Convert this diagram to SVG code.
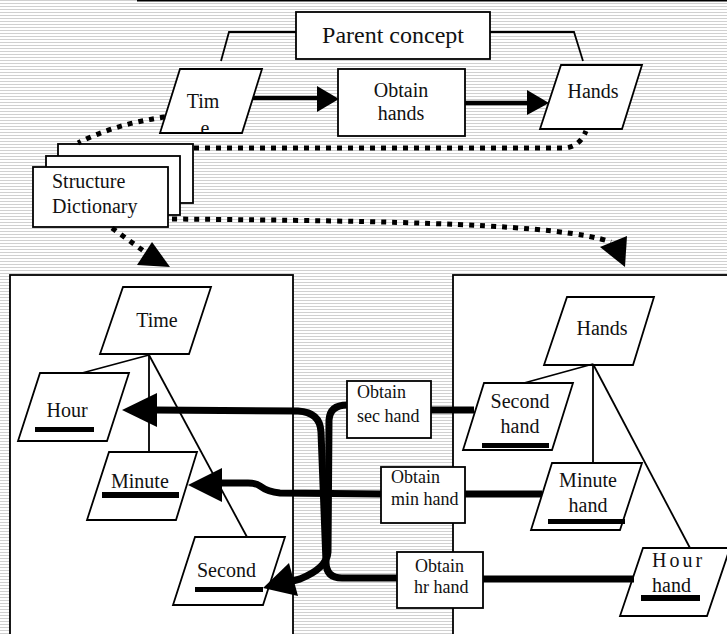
<svg xmlns="http://www.w3.org/2000/svg" width="727" height="634" viewBox="0 0 727 634">
<defs>
<pattern id="stripes" width="6" height="3" patternUnits="userSpaceOnUse">
<rect width="6" height="3" fill="#ffffff"/>
<rect width="6" height="1" fill="#d0d0d0"/>
</pattern>
<clipPath id="timeclip"><rect x="150" y="60" width="120" height="72"/></clipPath>
</defs>
<style>
.shape{fill:#fff;stroke:#000;stroke-width:1.8}
.thin{fill:none;stroke:#000;stroke-width:1.8}
.t{font-family:"Liberation Serif","Times New Roman",serif;font-size:20px;fill:#111}
.ts{font-family:"Liberation Serif","Times New Roman",serif;font-size:18px;fill:#111}
.c{text-anchor:middle}
.dot{fill:none;stroke:#000;stroke-width:5;stroke-dasharray:5 6}
.thick{fill:none;stroke:#000;stroke-width:7;stroke-linejoin:round}
.mid{fill:none;stroke:#000;stroke-width:4.5}
.ul{fill:#000}
</style>
<rect width="727" height="634" fill="url(#stripes)"/>
<line x1="137" y1="0.5" x2="727" y2="0.5" stroke="#000" stroke-width="2"/>

<g id="leftbox"><rect class="shape" x="10" y="275" width="283" height="370"/></g>
<g id="rightbox"><rect class="shape" x="453" y="275" width="290" height="370"/></g>

<g id="parent-concept">
<polyline class="thin" points="221,61 229,32 296,32"/>
<polyline class="thin" points="490,32 574,32 583,61"/>
<rect class="shape" x="296" y="12" width="194" height="47"/>
<text class="t c" x="393" y="43" style="font-size:24px">Parent concept</text>
</g>

<g id="time-top">
<polygon class="shape" points="180,69 262,69 242,133 160,133"/>
<text class="t c" x="203" y="108">Tim</text>
<text class="t c" x="205" y="135" clip-path="url(#timeclip)">e</text>
<line x1="160" y1="133" x2="242" y2="133" stroke="#000" stroke-width="1.8"/>
</g>

<g id="obtain-hands">
<rect class="shape" x="338" y="69" width="127" height="67"/>
<text class="t c" x="401" y="97">Obtain</text>
<text class="t c" x="401" y="120">hands</text>
</g>

<g id="hands-top">
<polygon class="shape" points="561,65 642,65 622,129 540,129"/>
<text class="t c" x="593" y="98">Hands</text>
</g>

<g id="structure-dictionary">
<rect class="shape" x="58" y="144" width="135" height="59"/>
<rect class="shape" x="46" y="156" width="134" height="59"/>
<rect class="shape" x="33" y="167" width="135" height="60"/>
<text class="t" x="52" y="188">Structure</text>
<text class="t" x="52" y="213">Dictionary</text>
</g>

<g id="time-left">
<polygon class="shape" points="123,287 211,287 189,354 100,354"/>
<text class="t c" x="157" y="327">Time</text>
</g>
<g id="hour-left">
<polygon class="shape" points="40,373 129,373 107,441 18,441"/>
<text class="t c" x="67" y="417">Hour</text>
<rect class="ul" x="35" y="427" width="59" height="5"/>
</g>
<g id="minute-left">
<polygon class="shape" points="109,452 197,452 176,520 87,520"/>
<text class="t" x="111" y="488">Minute</text>
<rect class="ul" x="102" y="492" width="77" height="6"/>
</g>
<g id="second-left">
<polygon class="shape" points="195,537 285,537 263,605 173,605"/>
<text class="t" x="197" y="577">Second</text>
<rect class="ul" x="195" y="587" width="68" height="5"/>
</g>

<g id="hands-right">
<polygon class="shape" points="567,297 654,297 633,365 544,365"/>
<text class="t c" x="602" y="335">Hands</text>
</g>
<g id="second-hand">
<polygon class="shape" points="484,383 573,383 552,450 463,450"/>
<text class="t c" x="520" y="408">Second</text>
<text class="t c" x="520" y="433">hand</text>
<rect class="ul" x="482" y="443" width="67" height="5"/>
</g>
<g id="minute-hand">
<polygon class="shape" points="552,463 642,463 620,530 531,530"/>
<text class="t c" x="588" y="487">Minute</text>
<text class="t c" x="588" y="512">hand</text>
<rect class="ul" x="548" y="519" width="77" height="5"/>
</g>
<g id="hour-hand">
<polygon class="shape" points="643,548 730,548 707,616 620,616"/>
<text class="t" x="652" y="567" style="letter-spacing:3px">Hour</text>
<text class="t" x="652" y="592">hand</text>
<rect class="ul" x="641" y="595" width="59" height="6"/>
</g>

<g id="obtain-sec">
<rect class="shape" x="347" y="381" width="84" height="57"/>
<text class="ts" x="357" y="398">Obtain</text>
<text class="ts" x="357" y="422">sec hand</text>
</g>
<g id="obtain-min">
<rect class="shape" x="381" y="467" width="84" height="56"/>
<text class="ts" x="391" y="483">Obtain</text>
<text class="ts" x="391" y="505">min hand</text>
</g>
<g id="obtain-hr">
<rect class="shape" x="397" y="552" width="86" height="56"/>
<text class="ts" x="415" y="572">Obtain</text>
<text class="ts" x="414" y="593">hr hand</text>
</g>

<g id="connectors">
<line class="thin" x1="149" y1="355" x2="82" y2="373"/>
<line class="thin" x1="149" y1="355" x2="149" y2="452"/>
<line class="thin" x1="149" y1="355" x2="247" y2="537"/>
<line class="thin" x1="593" y1="364" x2="524" y2="383"/>
<line class="thin" x1="593" y1="364" x2="593" y2="463"/>
<line class="thin" x1="593" y1="364" x2="690" y2="548"/>

<line class="mid" x1="253" y1="98" x2="319" y2="98"/>
<polygon points="317,86 317,112 339,99" fill="#000"/>
<line class="mid" x1="465" y1="103" x2="529" y2="103"/>
<polygon points="527,90 527,115 549,103" fill="#000"/>

<path class="dot" d="M165,117 Q115,124 78,143"/>
<path class="dot" d="M194,148 L566,148 Q580,146 586,131"/>
<path class="dot" d="M172,219 C400,221 560,224 611,242"/>
<polygon points="600,247 627,236 625,267" fill="#000"/>
<path class="dot" d="M112,228 L145,252"/>
<polygon points="152,242 137,265 170,267" fill="#000"/>

<line class="thick" x1="431" y1="410" x2="474" y2="410"/>
<line class="thick" x1="465" y1="494" x2="542" y2="494"/>
<line class="thick" x1="483" y1="579" x2="634" y2="579"/>

<path class="thick" d="M397,578 L342,578 Q326,578 326,562 L321,432 Q320,412 298,411 L154,410"/>
<polygon points="122,410 157,393 157,427" fill="#000"/>
<path class="thick" d="M347,405 Q330,405 329,420 L328,552 Q327,568 300,579 L285,583"/>
<polygon points="263,588 289,563 298,596" fill="#000"/>
<path class="thick" d="M381,494 L280,493 Q268,492 260,486 Q256,483 248,483 L220,483"/>
<polygon points="188,485 222,468 222,502" fill="#000"/>
</g>
</svg>
